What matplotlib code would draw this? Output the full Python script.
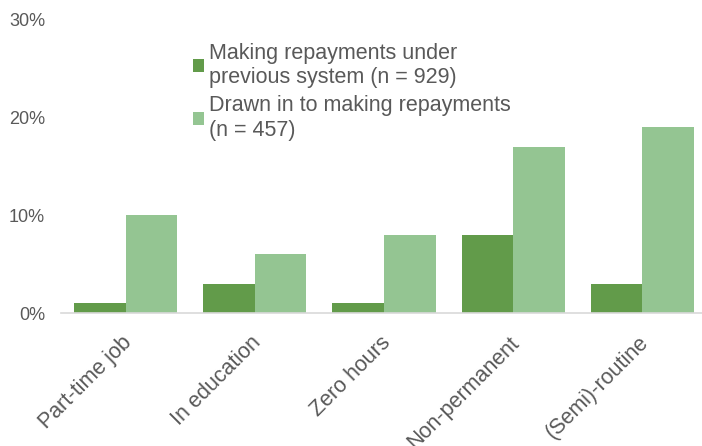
import matplotlib as mpl
mpl.use("Agg")
import numpy as np
from matplotlib import pyplot as plt
from matplotlib.ticker import PercentFormatter
from matplotlib.transforms import ScaledTranslation

plt.rcParams['font.family'] = ['Liberation Sans', 'DejaVu Sans']

categories = ['Part-time job', 'In education', 'Zero hours', 'Non-permanent', '(Semi)-routine']
previous = [1, 3, 1, 8, 3]
drawn_in = [10, 6, 8, 17, 19]
labels = ['Making repayments under\nprevious system (n = 929)',
          'Drawn in to making repayments\n(n = 457)']

dark = '#629b4a'
light = '#94c592'
grey = '#595959'

fig = plt.figure(figsize=(7.02, 4.46), dpi=100)
# right edge deliberately past the canvas: the original is cropped there
ax = fig.add_axes([61 / 702, 133 / 446, 646 / 702, 293 / 446])

x = np.arange(len(categories))
w = 0.4
ax.bar(x - w / 2, previous, w, color=dark, label=labels[0])
ax.bar(x + w / 2, drawn_in, w, color=light, label=labels[1])

ax.set_xlim(-0.5, len(categories) - 0.5)
ax.set_ylim(0, 30)
ax.set_yticks([0, 10, 20, 30])
ax.yaxis.set_major_formatter(PercentFormatter(decimals=0))
ax.set_xticks(x)
ax.set_xticklabels(categories, rotation=45, ha='right', rotation_mode='anchor')

for s in ['top', 'right', 'left']:
    ax.spines[s].set_visible(False)
ax.spines['bottom'].set_color('#d9d9d9')
ax.spines['bottom'].set_linewidth(1.2)

ax.tick_params(axis='y', length=0, pad=11.5, labelsize=13, labelcolor=grey)
ax.tick_params(axis='x', length=0, pad=14, labelsize=15.5, labelcolor=grey)

# nudge the slanted labels a bit to the left
shift = ScaledTranslation(-4 / 100, 0, fig.dpi_scale_trans)
for lbl in ax.get_xticklabels():
    lbl.set_transform(lbl.get_transform() + shift)

leg = fig.legend(loc='upper left', bbox_to_anchor=(184 / 702, 1 - 34 / 446),
                 frameon=False, fontsize=15.5, labelcolor=grey,
                 handlelength=0.55, handleheight=0.55, handletextpad=0.2,
                 labelspacing=0.35, borderaxespad=0)

fig.savefig('out.png', dpi=100)
